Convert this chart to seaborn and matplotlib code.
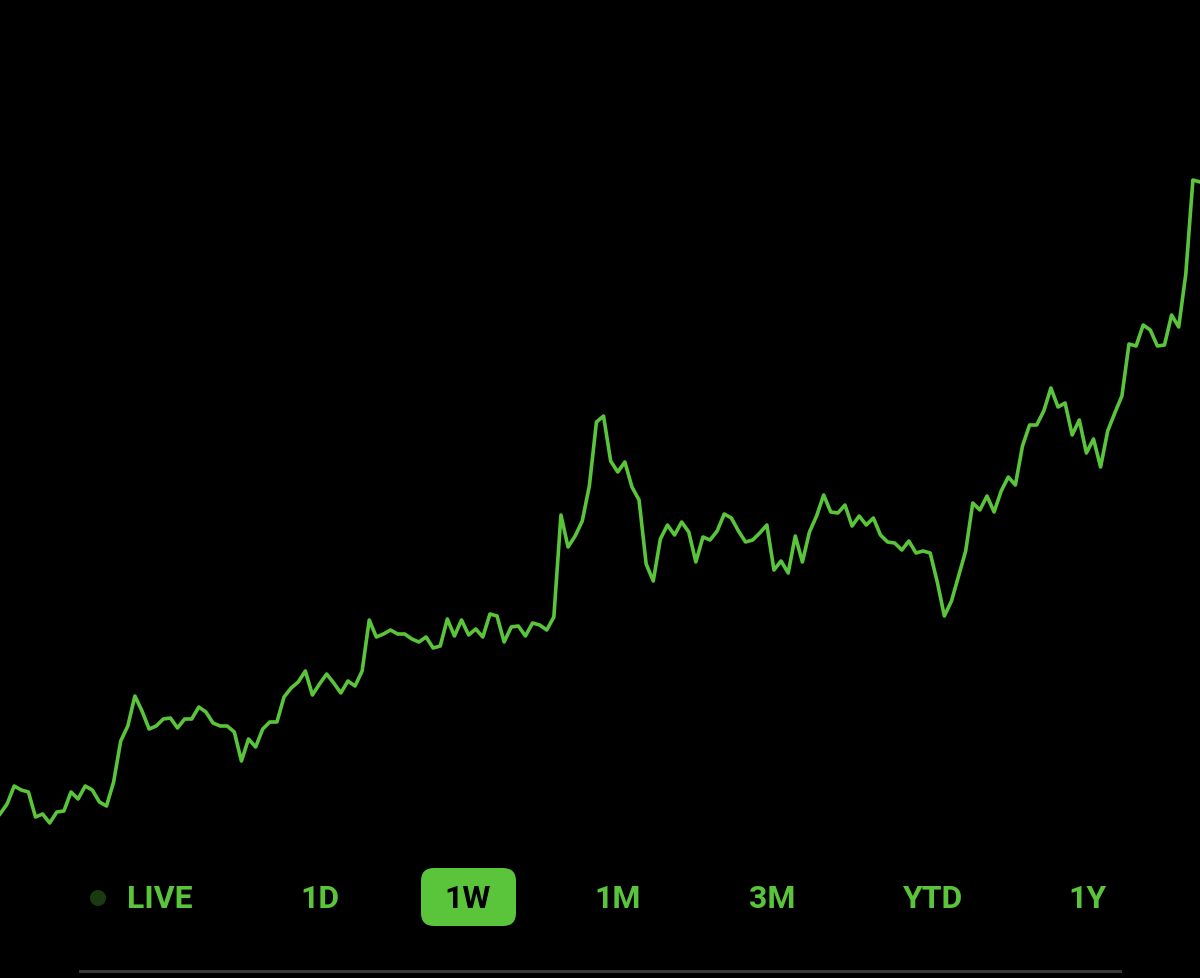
import numpy as np
import pandas as pd
import seaborn as sns
import matplotlib.pyplot as plt
from matplotlib.patches import FancyBboxPatch, Circle

# price trace (arbitrary units)
price = [15, 25, 43, 39, 37, 12, 15, 6, 17, 18, 37, 30, 43, 39, 27, 23, 47, 88, 103, 133,
         118, 100, 103, 110, 111, 101, 110, 110, 122, 117, 106, 103, 103, 97, 68, 90, 82, 100, 107, 107,
         132, 141, 147, 158, 134, 145, 155, 146, 136, 148, 143, 158, 209,
         192, 195, 199, 195, 195, 190, 187, 192, 181, 183, 210, 193, 209, 194, 200, 192, 215, 213, 187, 202,
         203, 193, 206, 204, 199, 212, 314, 282, 293, 308, 343, 407, 413, 368, 357, 367, 342, 329, 265, 248,
         290, 304, 294, 307, 297, 267, 292, 289, 298, 315, 311, 298, 287, 289, 296, 304, 259, 268, 256, 293,
         267, 297, 313, 334, 317, 316, 324, 303, 313, 304, 311, 294, 287, 286, 279, 288, 276, 278, 276, 247,
         213, 228, 253, 278,
         326, 319, 333, 317, 338, 352, 344, 383, 404, 404, 418, 441, 422, 426, 394, 409, 376, 390, 362, 398,
         416, 433, 485, 483, 504, 499, 483, 484, 514, 502, 555, 649, 647]
ranges = ["LIVE", "1D", "1W", "1M", "3M", "YTD", "1Y"]
selected = "1W"

green = "#5ac53b"
df = pd.DataFrame({"t": np.arange(len(price)), "price": price})

fig = plt.figure(figsize=(12, 9.79), dpi=100, facecolor="black")
ax = fig.add_axes([0, 0, 1, 1])
ax.set_facecolor("black")
sns.lineplot(data=df, x="t", y="price", color=green, linewidth=2.6, ax=ax)
ax.set_xlim(0, len(price) - 1)
ax.set_ylim(-149, 830)
ax.axis("off")

# range selector, placed in pixels -> inches
inch = fig.dpi_scale_trans
H = 979
def px(x, y):
    return x / 100, (H - y) / 100

xs = [160, 320, 468, 618, 772, 933, 1087]
for lab, x in zip(ranges, xs):
    col = green
    if lab == selected:
        box = FancyBboxPatch(px(421, 927), 0.95, 0.58,
                             boxstyle="round,pad=0,rounding_size=0.13",
                             transform=inch, facecolor=green, edgecolor="none")
        fig.add_artist(box)
        col = "black"
    fig.text(*px(x, 899), lab, color=col, fontsize=23, fontweight="bold", family="Roboto",
             ha="center", va="center", transform=inch)

fig.add_artist(Circle(px(98, 899), 0.08, transform=inch,
                      facecolor="#1a3b12", edgecolor="none"))
fig.add_artist(plt.Line2D([0.8, 11.2], [(H - 972) / 100] * 2,
                          color="#3a3a3c", linewidth=2.2, transform=inch))

fig.savefig("out.png", dpi=100, facecolor="black")
